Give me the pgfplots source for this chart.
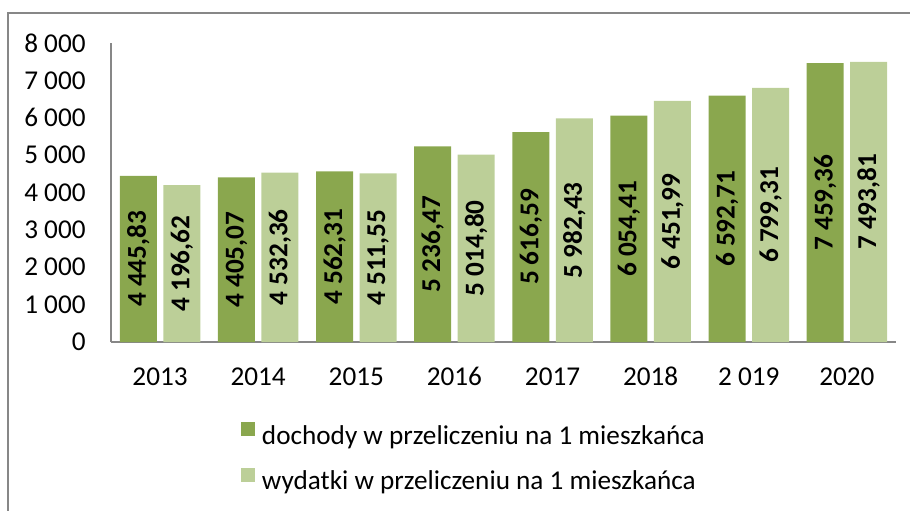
\documentclass[border=0pt]{standalone}
\usepackage{pgfplots}
\pgfplotsset{compat=1.18}
\usepackage{fontspec}
\setmainfont{Carlito}
\definecolor{dark}{HTML}{8AA74E}
\definecolor{light}{HTML}{BCCF98}
\definecolor{axgray}{HTML}{878787}
\begin{document}
\begin{tikzpicture}[font=\fontsize{13.6}{16}\selectfont]
\useasboundingbox (0,0) rectangle (455pt,255pt);
\draw[axgray, line width=0.75pt] (4pt,-1pt) -- (4pt,248.5pt) -- (456pt,248.5pt);
\begin{axis}[
  at={(55.5pt,84pt)}, anchor=south west,
  width=392.5pt, height=149.5pt, scale only axis,
  ymin=0, ymax=8000, ytick={0,1000,...,8000},
  xmin=-0.5, xmax=7.5, xtick={0,...,7},
  xticklabels={2013,2014,2015,2016,2017,2018,2 019,2020},
  axis x line*=bottom, axis y line*=left,
  axis line style={axgray, line width=0.75pt, -},
  major tick length=0pt,
  ybar=3.25pt, bar width=18.5pt,
  yticklabel style={inner sep=0pt, anchor=east, xshift=-12.5pt},
  xticklabel style={inner sep=0pt, anchor=base, yshift=-21.5pt},
  /pgf/number format/1000 sep={\ },
  /pgf/number format/assume math mode=true,
  nodes near coords={\pgfmathprintnumber[fixed,fixed zerofill,precision=2,use comma,1000 sep={\ }]{\pgfplotspointmeta}},
  visualization depends on=y \as \rawy,
  every node near coord/.append style={shift={(axis direction cs:0,-\rawy/2)}, rotate=90, anchor=center, font=\fontsize{13.6}{16}\selectfont\bfseries, inner sep=0pt, text=black},
  legend style={at={(0.1656,-0.3863)}, anchor=west, draw=none, fill=none, legend columns=1, inner sep=0pt, outer sep=0pt, nodes={inner sep=0pt}, /tikz/column sep=3.5pt, /tikz/row sep=10.5pt},
  legend cell align=left,
  legend image code/.code={\fill[#1] (0pt,0pt) rectangle (7pt,7pt);},
]
\addplot[fill=dark, draw=none] coordinates {(0,4445.83) (1,4405.07) (2,4562.31) (3,5236.47) (4,5616.59) (5,6054.41) (6,6592.71) (7,7459.36)};
\addlegendentry{dochody w przeliczeniu na 1 mieszkańca}
\addplot[fill=light, draw=none] coordinates {(0,4196.62) (1,4532.36) (2,4511.55) (3,5014.80) (4,5982.43) (5,6451.99) (6,6799.31) (7,7493.81)};
\addlegendentry{wydatki w przeliczeniu na 1 mieszkańca}
\end{axis}
\end{tikzpicture}
\end{document}
